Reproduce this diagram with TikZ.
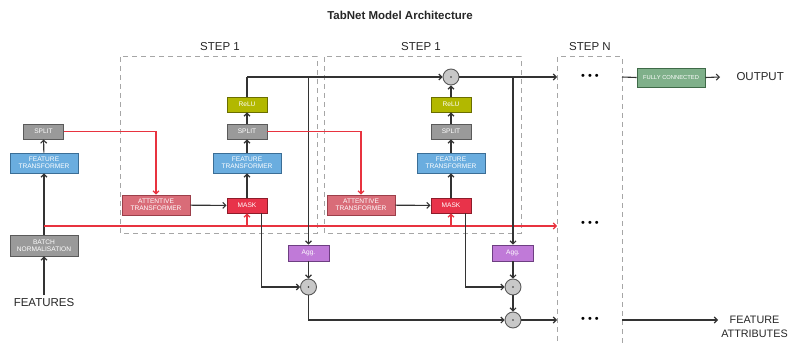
\documentclass[tikz,border=0pt]{standalone}
\usepackage{fontspec}
\setmainfont{Liberation Sans}
\usetikzlibrary{arrows.meta,calc}
\definecolor{lineC}{HTML}{333333}
\definecolor{redC}{HTML}{E8333F}
\definecolor{grayF}{HTML}{9A9A9A}\definecolor{grayD}{HTML}{5A5A5A}
\definecolor{blueF}{HTML}{6AADDF}\definecolor{blueD}{HTML}{3B6E96}
\definecolor{attF}{HTML}{D96C78}\definecolor{attD}{HTML}{9C3F4A}
\definecolor{maskF}{HTML}{E8334A}\definecolor{maskD}{HTML}{8E1C2A}
\definecolor{reluF}{HTML}{B2B800}\definecolor{reluD}{HTML}{6A6E00}
\definecolor{aggF}{HTML}{C07AD8}\definecolor{aggD}{HTML}{6E3F82}
\definecolor{fcF}{HTML}{7FB08A}\definecolor{fcD}{HTML}{3F6A48}
\definecolor{circF}{HTML}{C8C8C8}
\tikzset{
  blk/.style={draw, line width=0.9pt, text=white, font=\fontsize{6.6}{7.4}\selectfont, align=center, inner sep=0pt},
  smallblk/.style={blk, minimum width=40pt, minimum height=15pt},
  wideblk/.style={blk, minimum width=68pt, minimum height=20pt},
  graybox/.style={fill=grayF, draw=grayD},
  bluebox/.style={fill=blueF, draw=blueD},
  attbox/.style={fill=attF, draw=attD},
  maskbox/.style={fill=maskF, draw=maskD},
  relubox/.style={fill=reluF, draw=reluD},
  aggbox/.style={fill=aggF, draw=aggD},
  fcbox/.style={fill=fcF, draw=fcD},
  prod/.style={circle, draw=grayD, fill=circF, line width=0.9pt, minimum size=16pt, inner sep=0pt},
  conn/.style={draw=lineC, line width=1.1pt, -{Straight Barb[length=3pt,width=6pt]}},
  plain/.style={draw=lineC, line width=1.1pt},
  redconn/.style={draw=redC, line width=1.1pt, -{Straight Barb[length=3pt,width=6pt]}},
  stepbox/.style={draw=gray!70, line width=1pt, dash pattern=on 5pt off 4pt},
  lbl/.style={font=\fontsize{11.5}{12}\selectfont, text=black!85},
  dotsn/.style={font=\fontsize{11}{11}\selectfont, inner sep=0pt}
}
\begin{document}
\begin{tikzpicture}[x=1pt,y=-1pt]
\useasboundingbox (0,0) rectangle (790,345);
% title
\node[font=\bfseries\fontsize{11.5}{13}\selectfont, text=black!85] (title) at (400,15) {TabNet Model Architecture};
% step boxes
\draw[stepbox] (120,57) rectangle (317,233);
\draw[stepbox] (324,57) rectangle (521,233);
\draw[stepbox] (557,350) -- (557,57) -- (622,57) -- (622,350);
\node[lbl] (s1) at (220,47) {STEP 1};
\node[lbl] (s2) at (421,47) {STEP 1};
\node[lbl] (sn) at (590,47) {STEP N};
% left column
\node[smallblk, graybox] (split0) at (43.5,131.5) {SPLIT};
\node[wideblk, bluebox] (ft0) at (44,163) {FEATURE\\TRANSFORMER};
\node[wideblk, graybox, minimum height=21pt] (bn0) at (44,245.5) {BATCH\\NORMALISATION};
\node[lbl] (feat) at (44,303) {FEATURES};
% step 1
\node[wideblk, attbox] (att1) at (156,205) {ATTENTIVE\\TRANSFORMER};
\node[smallblk, maskbox] (mask1) at (247,205.5) {MASK};
\node[wideblk, bluebox] (ft1) at (247,163) {FEATURE\\TRANSFORMER};
\node[smallblk, graybox] (split1) at (247,131.5) {SPLIT};
\node[smallblk, relubox] (relu1) at (247,104.5) {ReLU};
\node[smallblk, aggbox, minimum width=41pt, minimum height=16pt] (agg1) at (308.5,253) {Agg.};
\node[prod] (c1a) at (308.5,287) {};
% step 2
\node[wideblk, attbox] (att2) at (361,205) {ATTENTIVE\\TRANSFORMER};
\node[smallblk, maskbox] (mask2) at (451,205.5) {MASK};
\node[wideblk, bluebox] (ft2) at (451,163) {FEATURE\\TRANSFORMER};
\node[smallblk, graybox] (split2) at (451,131.5) {SPLIT};
\node[smallblk, relubox] (relu2) at (451,104.5) {ReLU};
\node[prod] (circ2) at (451,77) {};
\node[smallblk, aggbox, minimum width=41pt, minimum height=16pt] (agg2) at (513,253) {Agg.};
\node[prod] (c2a) at (513,287) {};
\node[prod] (c2b) at (513,320) {};
\foreach \c in {c1a,circ2,c2a,c2b} \fill[lineC] (\c) circle (0.8pt);
% step N
\node[dotsn] (d1) at (590,77) {\textbullet\hspace{3pt}\textbullet\hspace{3pt}\textbullet};
\node[dotsn] (d2) at (590,224) {\textbullet\hspace{3pt}\textbullet\hspace{3pt}\textbullet};
\node[dotsn] (d3) at (590,320) {\textbullet\hspace{3pt}\textbullet\hspace{3pt}\textbullet};
\node[blk, fcbox, minimum width=68pt, minimum height=19pt, font=\fontsize{5.8}{6.5}\selectfont] (fc) at (671,77.5) {FULLY CONNECTED};
\node[lbl, anchor=west] (out) at (733,77) {OUTPUT};
\node[lbl, align=center, font=\fontsize{10.8}{13.5}\selectfont, inner sep=0pt] (fattr) at (754.5,327) {FEATURE\\ATTRIBUTES};
% coordinates
\coordinate (r0) at (44,226);
\coordinate (rend) at (557,226);
\coordinate (top1) at (247,77);
\coordinate (j1) at (308.5,77);
\coordinate (j2) at (513,77);
\coordinate (snIn) at (557,77);
\coordinate (snOut) at (622,77);
\coordinate (outEnd) at (720,77);
\coordinate (faIn) at (557,320);
\coordinate (faOut) at (622,320);
\coordinate (faEnd) at (718,320);
% left connectors
\draw[conn] (feat) -- (bn0);
\draw[conn] (bn0) -- (ft0);
\draw[conn] (ft0) -- (split0);
\draw[redconn] (r0) -- (rend);
\draw[redconn] (split0.east) -| (att1.north);
% step 1 connectors
\draw[conn] (att1) -- (mask1);
\draw[redconn] (mask1.south |- r0) -- (mask1.south);
\draw[conn] (mask1) -- (ft1);
\draw[conn] (ft1) -- (split1);
\draw[conn] (split1) -- (relu1);
\draw[plain] (relu1.north) -- (top1);
\draw[conn] (top1) -- (circ2.west);
\draw[conn] (j1) -- (agg1.north);
\draw[conn] (agg1) -- (c1a);
\draw[conn] ([xshift=-6pt]mask1.south east) |- (c1a.west);
\draw[conn] (c1a.south) |- (c2b.west);
\draw[redconn] (split1.east) -| (att2.north);
% step 2 connectors
\draw[conn] (att2) -- (mask2);
\draw[redconn] (mask2.south |- r0) -- (mask2.south);
\draw[conn] (mask2) -- (ft2);
\draw[conn] (ft2) -- (split2);
\draw[conn] (split2) -- (relu2);
\draw[conn] (relu2) -- (circ2);
\draw[conn] (circ2.east) -- (snIn);
\draw[conn] (j2) -- (agg2.north);
\draw[conn] (agg2) -- (c2a);
\draw[conn] ([xshift=-6pt]mask2.south east) |- (c2a.west);
\draw[conn] (c2a) -- (c2b);
\draw[conn] (c2b.east) -- (faIn);
% step N connectors
\draw[plain] (snOut) -- (fc.west);
\draw[conn] (fc.east) -- (outEnd);
\draw[conn] (faOut) -- (faEnd);
\end{tikzpicture}
\end{document}
